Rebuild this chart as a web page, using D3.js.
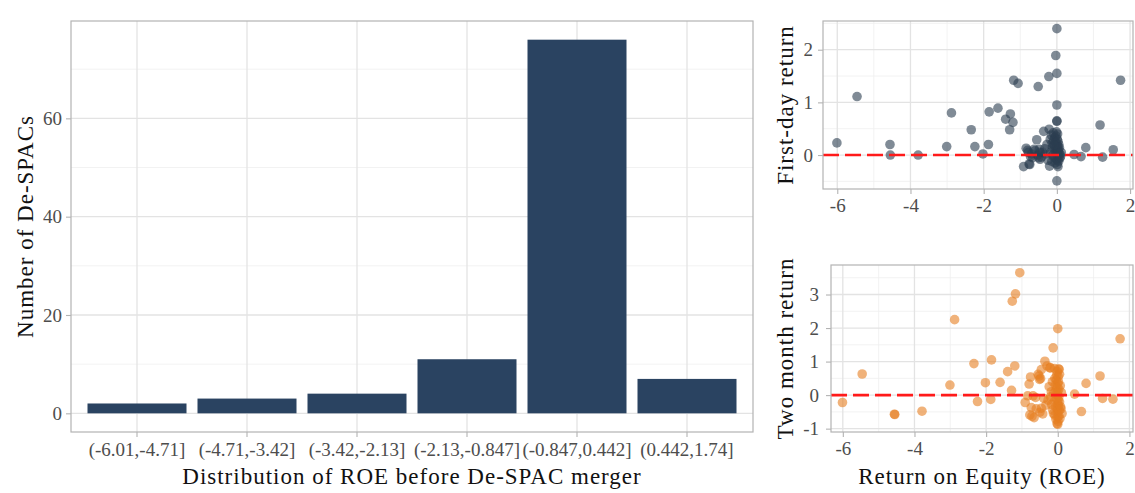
<!DOCTYPE html>
<html>
<head>
<meta charset="utf-8">
<script src="https://cdnjs.cloudflare.com/ajax/libs/d3/7.8.5/d3.min.js"></script>
<style>
  body { margin: 0; background: #ffffff; }
  text { font-family: "Liberation Serif", "Times New Roman", serif; }
</style>
</head>
<body>
<div id="chart"></div>
<script>
// Histogram bins of ROE before the De-SPAC merger
var binLabels = ["(-6.01,-4.71]", "(-4.71,-3.42]", "(-3.42,-2.13]", "(-2.13,-0.847]", "(-0.847,0.442]", "(0.442,1.74]"];
var binCounts = [2, 3, 4, 11, 76, 7];

// One entry per De-SPAC: ROE, first-day return, two month return
var roe = [
  -6.01, -5.46, -4.56, -4.55, -3.79, -3.01, -2.88, -2.34, -2.24, -2.02,
  -1.87, -1.85, -1.61, -1.40, -1.29, -1.27, -1.20, -1.18, -1.06, -0.91,
  -0.84, -0.80, -0.78, -0.76, -0.74, -0.72, -0.69, -0.66, -0.62, -0.60,
  -0.55, -0.52, -0.51, -0.50, -0.48, -0.46, -0.46, -0.42, -0.39, -0.36,
  -0.33, -0.30, -0.27, -0.24, -0.22, -0.21, -0.20, -0.18, -0.17, -0.15,
  -0.14, -0.13, -0.12, -0.11, -0.10, -0.09, -0.08, -0.07, -0.06, -0.05,
  -0.05, -0.04, -0.03, -0.03, -0.02, -0.02, -0.01, -0.01, 0.00, 0.00,
  0.00, 0.00, 0.00, 0.00, 0.00, 0.00, 0.01, 0.01, 0.01, 0.02,
  0.02, 0.02, 0.03, 0.03, 0.03, 0.04, 0.04, 0.05, 0.05, 0.06,
  0.07, 0.08, 0.09, 0.10, 0.12, -0.08,
  0.47, 0.66, 0.79, 1.18, 1.25, 1.54, 1.74
];
var firstDay = [
  0.23, 1.11, 0.20, 0.00, 0.00, 0.16, 0.80, 0.48, 0.16, 0.02,
  0.20, 0.82, 0.89, 0.68, 0.48, 0.78, 0.62, 1.42, 1.36, -0.22,
  0.13, 0.09, 0.05, -0.17, -0.18, -0.03, 0.02, -0.05, 0.11, 0.08,
  0.29, 0.00, 1.30, -0.05, 0.11, 0.05, -0.08, -0.04, 0.05, 0.45,
  0.12, 0.02, 0.20, -0.10, 1.49, 0.49, -0.21, 0.30, 0.05, 0.38,
  -0.12, 0.22, 0.15, 0.00, 0.42, 0.28, -0.05, 0.10, 0.33, 0.18,
  -0.15, 0.05, 1.89, 0.25, 0.36, -0.08, 0.12, 0.44, 2.40, 1.55,
  0.95, 0.64, 0.65, -0.49, 0.20, 0.08, -0.18, 0.30, 0.02, 0.16,
  -0.10, 0.40, 0.07, -0.22, 0.26, 0.11, -0.02, 0.20, -0.12, 0.03,
  0.14, -0.06, 0.01, -0.03, 0.05, 0.19,
  0.01, -0.03, 0.14, 0.57, -0.04, 0.10, 1.42
];
var twoMonth = [
  -0.22, 0.63, -0.57, -0.58, -0.48, 0.30, 2.25, 0.94, -0.19, 0.37,
  -0.13, 1.05, 0.38, 0.70, 0.14, 2.80, 0.87, 3.02, 3.65, -0.22,
  -0.02, 0.33, -0.59, 0.54, -0.37, -0.63, -0.02, -0.67, -0.07, -0.41,
  0.62, 0.57, 0.47, -0.51, 0.49, 0.76, -0.39, -0.56, -0.10, 1.01,
  -0.30, 0.87, -0.15, 0.25, 0.81, 0.82, -0.05, 0.10, -0.28, 0.40,
  -0.45, 1.41, -0.55, 0.05, -0.20, 0.79, -0.60, 0.30, -0.35, 0.15,
  -0.72, 0.45, 0.60, -0.10, -0.85, 0.22, -0.40, 0.70, 0.10, -0.25,
  0.35, -0.65, 0.00, -0.87, 1.98, -0.50, 0.55, -0.15, -0.78, 0.40,
  -0.32, 0.78, -0.05, -0.62, 0.18, -0.45, 0.77, -0.20, 0.62, -0.70,
  0.28, -0.35, -0.41, 0.08, -0.55, 0.50,
  0.03, -0.49, 0.35, 0.57, -0.10, -0.12, 1.68
];

var svgWidth = 1135;
var svgHeight = 493;

var gridMajor = "#e3e3e3";
var gridMinor = "#efefef";
var borderColor = "#b3b3b3";
var tickText = "#4d4d4d";

var svg = d3.select("#chart")
  .append("svg")
  .attr("width", svgWidth)
  .attr("height", svgHeight);

// styling shared by every axis
function styleAxis(g) {
  g.attr("font-family", null);
  g.select(".domain").remove();
  g.selectAll(".tick line").attr("stroke", borderColor).attr("stroke-width", 1.1);
  g.selectAll(".tick text")
    .attr("fill", tickText)
    .style("font-size", "19px")
    .style("font-family", "'Liberation Serif', serif");
}

function axisTitle(x, y, label, rotate) {
  var t = svg.append("text")
    .attr("fill", "#111")
    .attr("text-anchor", "middle")
    .style("font-size", "23px")
    .style("letter-spacing", "1px")
    .text(label);
  if (rotate) {
    t.attr("transform", `translate(${x}, ${y}) rotate(-90)`);
  } else {
    t.attr("x", x).attr("y", y);
  }
}

// ---------------- Left panel: histogram ----------------
var bar = { left: 71, right: 753, top: 21, bottom: 432 };

var xBand = d3.scaleBand()
  .domain(binLabels)
  .range([bar.left, bar.right])
  .paddingInner(0.1)
  .paddingOuter(0.15);

var yCount = d3.scaleLinear()
  .domain([-3.8, 79.8])
  .range([bar.bottom, bar.top]);

var barGroup = svg.append("g");

// minor grid
barGroup.selectAll(".minor")
  .data([10, 30, 50, 70])
  .enter()
  .append("line")
  .attr("x1", bar.left).attr("x2", bar.right)
  .attr("y1", d => yCount(d)).attr("y2", d => yCount(d))
  .attr("stroke", gridMinor).attr("stroke-width", 0.8);

// major grid
barGroup.selectAll(".majorY")
  .data([0, 20, 40, 60])
  .enter()
  .append("line")
  .attr("x1", bar.left).attr("x2", bar.right)
  .attr("y1", d => yCount(d)).attr("y2", d => yCount(d))
  .attr("stroke", gridMajor).attr("stroke-width", 1.3);

barGroup.selectAll(".majorX")
  .data(binLabels)
  .enter()
  .append("line")
  .attr("x1", d => xBand(d) + xBand.bandwidth() / 2)
  .attr("x2", d => xBand(d) + xBand.bandwidth() / 2)
  .attr("y1", bar.top).attr("y2", bar.bottom)
  .attr("stroke", gridMajor).attr("stroke-width", 1.3);

// bars
barGroup.selectAll("rect.bar")
  .data(binLabels)
  .enter()
  .append("rect")
  .attr("class", "bar")
  .attr("x", d => xBand(d))
  .attr("width", xBand.bandwidth())
  .attr("y", (d, i) => yCount(binCounts[i]))
  .attr("height", (d, i) => yCount(0) - yCount(binCounts[i]))
  .attr("fill", "#2a4361");

barGroup.append("rect")
  .attr("x", bar.left).attr("y", bar.top)
  .attr("width", bar.right - bar.left).attr("height", bar.bottom - bar.top)
  .attr("fill", "none").attr("stroke", borderColor).attr("stroke-width", 1.2);

barGroup.append("g")
  .attr("transform", `translate(0, ${bar.bottom})`)
  .call(d3.axisBottom(xBand).tickSize(5).tickPadding(6))
  .call(styleAxis);

barGroup.append("g")
  .attr("transform", `translate(${bar.left}, 0)`)
  .call(d3.axisLeft(yCount).tickValues([0, 20, 40, 60]).tickSize(5).tickPadding(4))
  .call(styleAxis);

axisTitle((bar.left + bar.right) / 2, 484, "Distribution of ROE before De-SPAC merger", false);
axisTitle(33, (bar.top + bar.bottom) / 2, "Number of De-SPACs", true);

// ---------------- Right panels: scatter plots ----------------
function drawScatter(p) {
  var xs = d3.scaleLinear().domain(p.xDomain).range([p.left, p.right]);
  var ys = d3.scaleLinear().domain(p.yDomain).range([p.bottom, p.top]);
  var g = svg.append("g");

  g.selectAll(".minX")
    .data([-5, -3, -1, 1])
    .enter()
    .append("line")
    .attr("x1", d => xs(d)).attr("x2", d => xs(d))
    .attr("y1", p.top).attr("y2", p.bottom)
    .attr("stroke", gridMinor).attr("stroke-width", 0.8);

  g.selectAll(".minY")
    .data(p.yMinor)
    .enter()
    .append("line")
    .attr("x1", p.left).attr("x2", p.right)
    .attr("y1", d => ys(d)).attr("y2", d => ys(d))
    .attr("stroke", gridMinor).attr("stroke-width", 0.8);

  g.selectAll(".majX")
    .data([-6, -4, -2, 0, 2])
    .enter()
    .append("line")
    .attr("x1", d => xs(d)).attr("x2", d => xs(d))
    .attr("y1", p.top).attr("y2", p.bottom)
    .attr("stroke", gridMajor).attr("stroke-width", 1.3);

  g.selectAll(".majY")
    .data(p.yTicks)
    .enter()
    .append("line")
    .attr("x1", p.left).attr("x2", p.right)
    .attr("y1", d => ys(d)).attr("y2", d => ys(d))
    .attr("stroke", gridMajor).attr("stroke-width", 1.3);

  g.selectAll("circle")
    .data(roe)
    .enter()
    .append("circle")
    .attr("cx", d => xs(d))
    .attr("cy", (d, i) => ys(p.values[i]))
    .attr("r", 4.8)
    .attr("fill", p.color)
    .attr("fill-opacity", 0.6);

  // dashed zero line
  g.append("line")
    .attr("x1", p.left).attr("x2", p.right)
    .attr("y1", ys(0)).attr("y2", ys(0))
    .attr("stroke", "#ff1a1a")
    .attr("stroke-width", 2.6)
    .attr("stroke-dasharray", "16,6");

  g.append("rect")
    .attr("x", p.left).attr("y", p.top)
    .attr("width", p.right - p.left).attr("height", p.bottom - p.top)
    .attr("fill", "none").attr("stroke", borderColor).attr("stroke-width", 1.2);

  g.append("g")
    .attr("transform", `translate(0, ${p.bottom})`)
    .call(d3.axisBottom(xs).tickValues([-6, -4, -2, 0, 2]).tickFormat(d => String(d)).tickSize(5).tickPadding(5))
    .call(styleAxis);

  g.append("g")
    .attr("transform", `translate(${p.left}, 0)`)
    .call(d3.axisLeft(ys).tickValues(p.yTicks).tickFormat(d => String(d)).tickSize(5).tickPadding(p.yPad))
    .call(styleAxis);

  axisTitle(p.titleX, (p.top + p.bottom) / 2, p.yTitle, true);
}

drawScatter({
  left: 823, right: 1133, top: 21, bottom: 189,
  xDomain: [-6.39, 2.08], yDomain: [-0.645, 2.545],
  yTicks: [0, 1, 2], yMinor: [-0.5, 0.5, 1.5, 2.5],
  values: firstDay, color: "#2c3e50",
  yTitle: "First-day return", titleX: 793, yPad: 5
});

drawScatter({
  left: 831, right: 1133, top: 265, bottom: 432,
  xDomain: [-6.33, 2.10], yDomain: [-1.10, 3.88],
  yTicks: [-1, 0, 1, 2, 3], yMinor: [-0.5, 0.5, 1.5, 2.5, 3.5],
  values: twoMonth, color: "#e67e22",
  yTitle: "Two month return", titleX: 793, yPad: 7
});

axisTitle(982, 484, "Return on Equity (ROE)", false);
</script>
</body>
</html>
